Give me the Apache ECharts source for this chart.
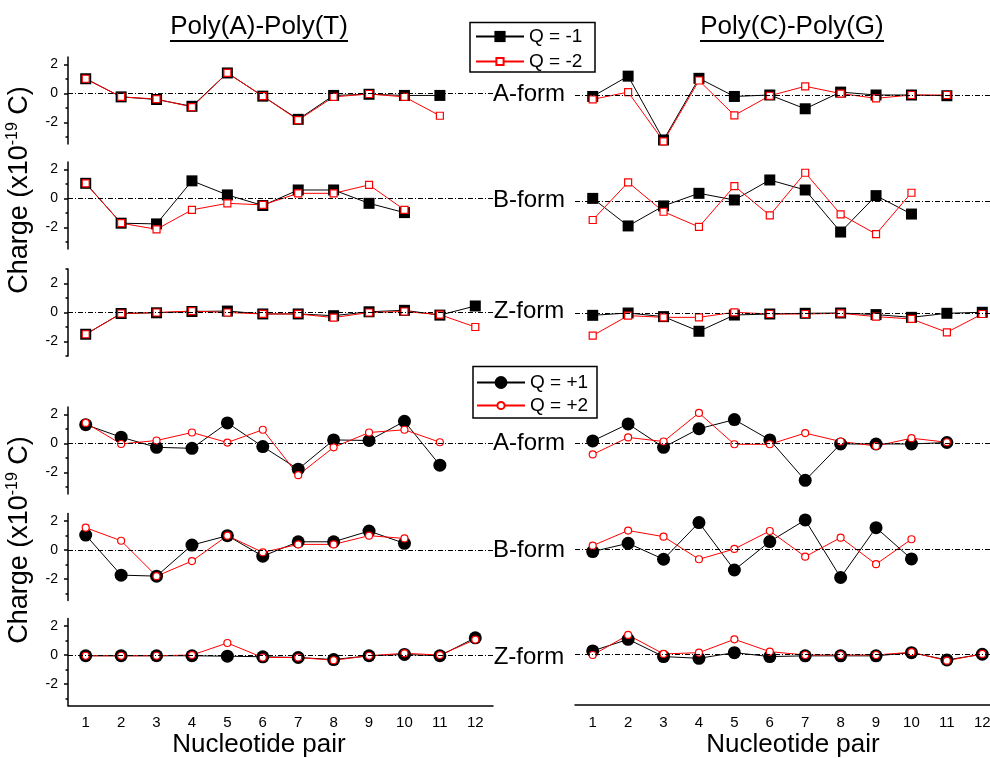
<!DOCTYPE html>
<html>
<head>
<meta charset="utf-8">
<script src="https://cdn.jsdelivr.net/npm/echarts@6/dist/echarts.min.js"></script>
<style>
  html, body { margin: 0; padding: 0; background: #fff; }
  #main { width: 990px; height: 758px; }
</style>
</head>
<body>
<div id="main"></div>
<script>
// x categories
const pairs = ['1', '2', '3', '4', '5', '6', '7', '8', '9', '10', '11', '12'];
const forms = ['A-form', 'B-form', 'Z-form', 'A-form', 'B-form', 'Z-form'];

// Poly(A)-Poly(T), Q = -1 / Q = -2
const atA_qm1 = [1.0, -0.25, -0.43, -0.9, 1.4, -0.2, -1.8, -0.15, -0.07, -0.15, -0.15];
const atA_qm2 = [1.0, -0.25, -0.4, -0.95, 1.4, -0.2, -1.85, -0.25, -0.05, -0.25, -1.55];
const atB_qm1 = [1.03, -1.72, -1.77, 1.2, 0.23, -0.5, 0.57, 0.57, -0.35, -0.99];
const atB_qm2 = [1.03, -1.72, -2.14, -0.8, -0.35, -0.46, 0.34, 0.34, 0.92, -0.8];
const atZ_qm1 = [-1.5, -0.07, -0.02, 0.07, 0.1, -0.1, -0.1, -0.22, 0.05, 0.15, -0.18, 0.45];
const atZ_qm2 = [-1.5, -0.07, 0, 0.1, 0, -0.1, -0.1, -0.35, 0, 0.07, -0.15, -1.0];

// Poly(C)-Poly(G), Q = -1 / Q = -2
const cgA_qm1 = [-0.1, 1.3, -3.1, 1.15, -0.1, 0.0, -0.95, 0.2, 0.0, 0.0, -0.05];
const cgA_qm2 = [-0.3, 0.2, -3.2, 1.0, -1.4, -0.05, 0.6, 0.1, -0.23, 0.0, 0.0];
const cgB_qm1 = [0.18, -1.72, -0.34, 0.53, 0.07, 1.45, 0.76, -2.14, 0.37, -0.9];
const cgB_qm2 = [-1.31, 1.29, -0.74, -1.79, 1.03, -0.99, 1.95, -0.92, -2.28, 0.57];
const cgZ_qm1 = [-0.16, 0, -0.25, -1.26, -0.14, -0.07, -0.02, 0, -0.11, -0.3, -0.02, 0.05];
const cgZ_qm2 = [-1.56, -0.18, -0.3, -0.3, 0.05, -0.07, -0.07, -0.02, -0.25, -0.41, -1.33, -0.07];

// Poly(A)-Poly(T), Q = +1 / Q = +2
const atA_qp1 = [1.28, 0.42, -0.28, -0.35, 1.4, -0.23, -1.79, 0.23, 0.19, 1.51, -1.51];
const atA_qp2 = [1.4, -0.05, 0.19, 0.74, 0.05, 0.93, -2.2, -0.28, 0.74, 0.93, 0.07];
const atB_qp1 = [1.01, -1.75, -1.82, 0.32, 0.97, -0.44, 0.55, 0.55, 1.29, 0.44];
const atB_qp2 = [1.52, 0.62, -1.82, -0.78, 0.97, -0.18, 0.37, 0.37, 0.97, 0.78];
const atZ_qp1 = [-0.07, -0.07, -0.07, -0.07, -0.1, -0.14, -0.19, -0.33, -0.07, 0.02, -0.07, 1.17];
const atZ_qp2 = [-0.07, -0.07, -0.07, -0.02, 0.81, -0.19, -0.19, -0.38, -0.07, 0.1, -0.02, 1.05];

// Poly(C)-Poly(G), Q = +1 / Q = +2
const cgA_qp1 = [0.16, 1.33, -0.28, 1.0, 1.63, 0.23, -2.56, -0.05, -0.05, -0.05, 0.05];
const cgA_qp2 = [-0.77, 0.4, 0.12, 2.09, -0.07, -0.07, 0.7, 0.12, -0.19, 0.35, 0.07];
const cgB_qp1 = [-0.16, 0.41, -0.69, 1.84, -1.43, 0.53, 2.02, -1.95, 1.49, -0.67];
const cgB_qp2 = [0.25, 1.29, 0.87, -0.69, 0.02, 1.26, -0.51, 0.8, -1.03, 0.69];
const cgZ_qp1 = [0.23, 1.03, -0.16, -0.28, 0.11, -0.16, -0.11, -0.11, -0.11, 0.11, -0.39, 0];
const cgZ_qp2 = [-0.05, 1.33, 0.02, 0.11, 1.03, 0.18, -0.05, -0.05, -0.05, 0.14, -0.44, 0.02];

const rowData = [
  [[atA_qm1, atA_qm2], [cgA_qm1, cgA_qm2]],
  [[atB_qm1, atB_qm2], [cgB_qm1, cgB_qm2]],
  [[atZ_qm1, atZ_qm2], [cgZ_qm1, cgZ_qm2]],
  [[atA_qp1, atA_qp2], [cgA_qp1, cgA_qp2]],
  [[atB_qp1, atB_qp2], [cgB_qp1, cgB_qp2]],
  [[atZ_qp1, atZ_qp2], [cgZ_qp1, cgZ_qp2]]
];

// layout
const FONT = 'Liberation Sans, Arial, sans-serif';
const leftTops = [57, 162, 269, 407, 513.5, 618.5];
const rightTops = [58.75, 164.75, 269.5, 407, 513, 618];
const labelYs = [94, 200, 311, 443, 550, 657];

const grid = [], xAxis = [], yAxis = [], series = [];

rowData.forEach(function (pair, r) {
  const neg = r < 3;
  const range = r === 2 ? [-3, 3] : [-3.5, 2.5];
  const minorVals = r === 2 ? [-3, -1, 1, 3] : [-3, -1, 1];
  pair.forEach(function (vals, c) {
    const gi = grid.length;
    // right column runs off the page edge
    grid.push({ left: c ? 575 : 68, width: 425, top: c ? rightTops[r] : leftTops[r], height: 87, outerBoundsMode: 'none' });
    xAxis.push({
      type: 'category', gridIndex: gi, data: pairs, boundaryGap: true,
      show: r === 5, position: 'bottom',
      axisLine: { onZero: false, lineStyle: { color: '#000', width: 1.5 } },
      axisTick: { alignWithLabel: true, interval: 0, length: 4, lineStyle: { color: '#000', width: 1.5 } },
      axisLabel: { interval: 0, color: '#000', fontSize: 15, fontFamily: FONT, margin: 10 },
      splitLine: { show: false }
    });
    const yi = yAxis.length;
    yAxis.push({
      type: 'value', gridIndex: gi, min: range[0], max: range[1], show: c === 0, position: 'left',
      axisLine: { show: true, onZero: false, lineStyle: { color: '#000', width: 1.5 } },
      axisTick: { show: true, customValues: [-2, 0, 2], length: 4, lineStyle: { color: '#000', width: 1.5 } },
      axisLabel: { customValues: [-2, 0, 2], color: '#000', fontSize: 14, fontFamily: FONT, margin: 10 },
      splitLine: { show: false }
    });
    if (c === 0) {
      // minor ticks
      yAxis.push({
        type: 'value', gridIndex: gi, min: range[0], max: range[1], position: 'left',
        axisLine: { show: false, onZero: false },
        axisTick: { show: true, customValues: minorVals, length: 2.5, lineStyle: { color: '#000', width: 1.5 } },
        axisLabel: { show: false },
        splitLine: { show: false }
      });
    }
    series.push({
      type: 'line', name: neg ? 'Q = -1' : 'Q = +1', data: vals[0],
      xAxisIndex: gi, yAxisIndex: yi,
      symbol: neg ? 'rect' : 'circle', symbolSize: neg ? 11 : 13,
      itemStyle: { color: '#000' },
      lineStyle: { color: '#000', width: 1 },
      markLine: {
        silent: true, symbol: ['none', 'none'], label: { show: false },
        lineStyle: { color: '#000', width: 1, type: [5, 2, 1, 2] },
        data: [{ yAxis: 0 }]
      }
    });
    series.push({
      type: 'line', name: neg ? 'Q = -2' : 'Q = +2', data: vals[1],
      xAxisIndex: gi, yAxisIndex: yi,
      symbol: neg ? 'rect' : 'circle', symbolSize: 7,
      itemStyle: { color: '#fff', borderColor: '#ff0000', borderWidth: 1.2 },
      lineStyle: { color: '#ff0000', width: 1 }
    });
  });
});

const legendText = { fontSize: 19, color: '#000', fontFamily: FONT };
const legend = [
  { data: ['Q = -1'], left: 475, top: 27, itemWidth: 48, itemHeight: 14, padding: 0, textStyle: legendText },
  { data: ['Q = -2'], left: 475, top: 52, itemWidth: 48, itemHeight: 9, padding: 0, textStyle: legendText },
  { data: ['Q = +1'], left: 476, top: 373, itemWidth: 48, itemHeight: 16, padding: 0, textStyle: legendText },
  { data: ['Q = +2'], left: 476, top: 396, itemWidth: 48, itemHeight: 9, padding: 0, textStyle: legendText }
];

const graphic = [
  { type: 'text', x: 259, y: 27, style: { text: 'Poly(A)-Poly(T)', font: '26px ' + FONT, fill: '#000', align: 'center', verticalAlign: 'middle' } },
  { type: 'line', shape: { x1: 170, y1: 41, x2: 348, y2: 41 }, style: { stroke: '#000', lineWidth: 2 } },
  { type: 'text', x: 792, y: 27, style: { text: 'Poly(C)-Poly(G)', font: '26px ' + FONT, fill: '#000', align: 'center', verticalAlign: 'middle' } },
  { type: 'line', shape: { x1: 700, y1: 41, x2: 884, y2: 41 }, style: { stroke: '#000', lineWidth: 2 } },
  { type: 'rect', shape: { x: 470, y: 22.5, width: 125, height: 49.5 }, style: { fill: 'none', stroke: '#000', lineWidth: 1.5 } },
  { type: 'rect', shape: { x: 473, y: 366.5, width: 124, height: 51.5 }, style: { fill: 'none', stroke: '#000', lineWidth: 1.5 } },
  { type: 'text', x: 259, y: 745, style: { text: 'Nucleotide pair', font: '26px ' + FONT, fill: '#000', align: 'center', verticalAlign: 'middle' } },
  { type: 'text', x: 793, y: 745, style: { text: 'Nucleotide pair', font: '26px ' + FONT, fill: '#000', align: 'center', verticalAlign: 'middle' } }
];
labelYs.forEach(function (y, r) {
  graphic.push({ type: 'text', x: 529, y: y, style: { text: forms[r], font: '24px ' + FONT, fill: '#000', align: 'center', verticalAlign: 'middle', backgroundColor: '#fff' } });
});
[190, 540].forEach(function (y) {
  graphic.push({
    type: 'text', x: 20, y: y, rotation: Math.PI / 2,
    style: {
      text: '{a|Charge (x10}{s|-19}{a| C)}',
      align: 'center', verticalAlign: 'middle',
      rich: {
        a: { fontSize: 27, fontFamily: FONT, fill: '#000', lineHeight: 30 },
        s: { fontSize: 16, fontFamily: FONT, fill: '#000', verticalAlign: 'top', lineHeight: 30 }
      }
    }
  });
});

const chart = echarts.init(document.getElementById('main'));
chart.setOption({
  animation: false,
  backgroundColor: '#fff',
  grid: grid,
  xAxis: xAxis,
  yAxis: yAxis,
  legend: legend,
  series: series,
  graphic: graphic
});
</script>
</body>
</html>
